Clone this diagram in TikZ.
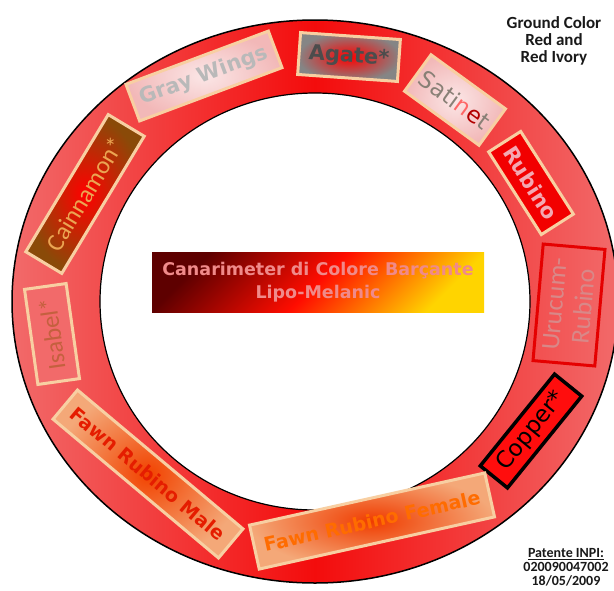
\documentclass[tikz,border=0pt]{standalone}
\usepackage{fontspec}
\setmainfont{Carlito}
\newfontfamily\verd{DejaVu Sans}
\definecolor{ringred}{HTML}{F30C0C}
\definecolor{ringpink}{HTML}{F26A6A}
\definecolor{peach}{HTML}{F8CFA2}
\definecolor{pinklight}{HTML}{FBE6E6}
\definecolor{pinkmid}{HTML}{F2B8B8}
\definecolor{agategray}{HTML}{858585}
\definecolor{brownish}{HTML}{8A4A08}
\definecolor{fawnred}{HTML}{F03C00}
\definecolor{fawnpeach}{HTML}{F4A878}
\definecolor{darkmaroon}{HTML}{5E0000}
\definecolor{banyellow}{HTML}{FFD400}
\definecolor{bantext}{HTML}{F08A8A}
\definecolor{rubtext}{HTML}{F3A8B2}
\definecolor{urutext}{HTML}{D88888}
\definecolor{isatext}{HTML}{C4603E}
\definecolor{cintext}{HTML}{EBA552}

\begin{document}
\begin{tikzpicture}[x=1pt, y=-1pt,
    every node/.style={font=\verd},
    tag/.style={
        rectangle, draw=peach, line width=3pt, inner sep=0pt, align=center,
    },
    big/.style={font=\verd\bfseries\fontsize{#1}{#1}\selectfont},
    thin/.style={font=\fontsize{#1}{#1}\selectfont},
    note/.style={font=\bfseries\fontsize{#1}{#1}\selectfont, align=center},
]
\useasboundingbox (0,0) rectangle (614,590);
\fill[white] (0,0) rectangle (614,590);

% ---------------------------------------------------------------- ring
\path[even odd rule, left color=ringpink, right color=ringpink, middle color=ringred]
    (315,301.5) ellipse [x radius=303pt, y radius=281.5pt]
    (315,301.5) ellipse [x radius=215pt, y radius=208.5pt];
\draw[line width=1.5pt] (315,301.5) ellipse [x radius=303pt, y radius=281.5pt];
\draw[line width=1.2pt] (315,301.5) ellipse [x radius=215pt, y radius=208.5pt];

% ---------------------------------------------------------------- labels on the ring
\node[tag, big=21, minimum width=152pt, minimum height=39pt, rotate=20.5,
    inner color=pinklight, outer color=pinkmid, text=gray!55!white]
    (gray) at (204,76) {Gray Wings};
\node[tag, big=21, minimum width=100pt, minimum height=42pt, rotate=-4,
    inner color=red, outer color=agategray, text=black!70]
    (agate) at (349,57) {Agate*};
\node[tag, minimum width=92pt, minimum height=45pt, rotate=-36,
    font=\verd\fontsize{23}{23}\selectfont,
    inner color=pinklight, outer color=pinkmid, text=gray!85!brown]
    (satin) at (455,100) {Sati\textcolor{red!60}{n}\textcolor{red!70!black}{e}t};
\node[tag, big=21, minimum width=98pt, minimum height=38pt, rotate=-57.5,
    fill=red!95!black, text=rubtext]
    (rubino) at (531,183) {Rubino};
\node[tag, minimum width=117pt, minimum height=62pt, rotate=85,
    draw=red!90!black, text=urutext, font=\fontsize{26}{29}\selectfont]
    (urucum) at (569,305) {Urucum-\\ Rubino};
\node[tag, minimum width=118pt, minimum height=35pt, rotate=51,
    draw=black, line width=3.5pt, fill=red!95!white, text=black,
    font=\verd\fontsize{23}{23}\selectfont]
    (copper) at (531,431) {Copper*};
\node[tag, big=19, minimum width=241pt, minimum height=45pt, rotate=12.5,
    inner color=fawnred, outer color=fawnpeach, text=orange!85!red]
    (female) at (372,521) {Fawn Rubino Female};
\node[tag, big=19, minimum width=216pt, minimum height=38pt, rotate=-40,
    inner color=fawnred!90!orange, outer color=fawnpeach, text=red!75!orange!90!black]
    (male) at (148,474) {Fawn Rubino Male};
\node[tag, thin=25, minimum width=96pt, minimum height=42pt, rotate=98,
    fill=ringpink, text=isatext]
    (isabel) at (52,334) {Isabel*};
\node[tag, thin=25, minimum width=160pt, minimum height=42pt, rotate=59,
    inner color=red, outer color=brownish, text=cintext]
    (cinnamon) at (85,194) {Cainnamon*};

% ---------------------------------------------------------------- title
\node[rectangle, minimum width=332pt, minimum height=60pt, inner sep=0pt,
    top color=darkmaroon, bottom color=banyellow, middle color=red!90!orange,
    shading angle=45, align=center, text=bantext,
    font=\verd\bfseries\fontsize{17.5}{23}\selectfont]
    (title) at (318,282) {Canarimeter di Colore Barçante\\ Lipo-Melanic};

% ---------------------------------------------------------------- notes
\node[note=17, text=black!90] (ground) at (554,41)
    {\fontsize{17}{21}\selectfont Ground Color\\ Red and\\ Red Ivory};
\node[note=14, text=black!90] (patent) at (566,567)
    {\fontsize{14}{13}\selectfont \underline{Patente INPI:}\\ 020090047002\\ 18/05/2009};

\end{tikzpicture}
\end{document}
